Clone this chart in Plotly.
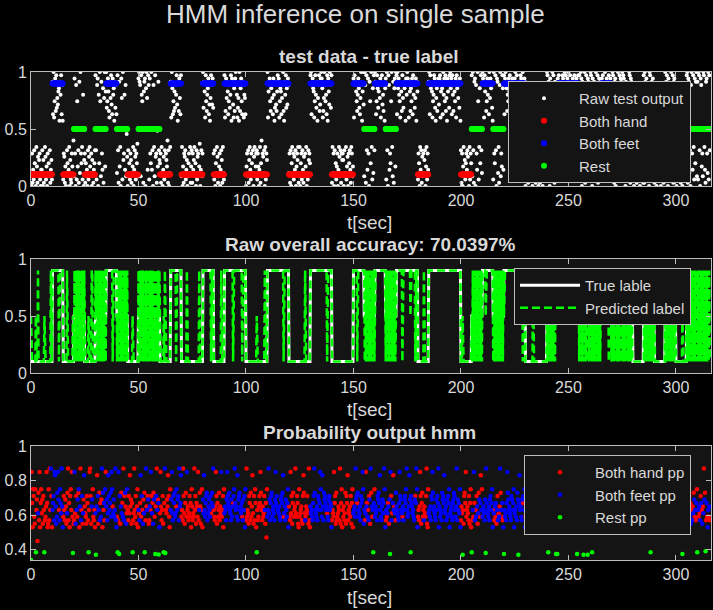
import plotly.graph_objects as go

DT = 0.25  # sample period [sec]

# true label segments [sec]: H = both hand, F = both feet, R = rest
seg_start = [0, 10, 15, 20, 25, 30, 35, 40, 45, 50, 60, 65, 70, 80, 85, 90, 100, 110, 120, 130,
             140, 150, 155, 160, 165, 170, 180, 185, 200, 205, 210, 215, 220, 230, 240, 245,
             255, 265, 270, 280, 285, 290, 295, 300, 305]
seg_end = [10, 15, 20, 25, 30, 35, 40, 45, 50, 60, 65, 70, 80, 85, 90, 100, 110, 120, 130, 140,
           150, 155, 160, 165, 170, 180, 185, 200, 205, 210, 215, 220, 230, 240, 245, 255,
           265, 270, 280, 285, 290, 295, 300, 305, 316]
seg_class = ["H", "F", "H", "R", "H", "R", "F", "R", "H", "R", "H", "F", "H", "F", "H", "F", "H", "F",
             "H", "F", "H", "F", "R", "F", "R", "F", "H", "F", "H", "R", "F", "R", "F", "H", "R",
             "F", "R", "F", "R", "H", "R", "H", "R", "H", "R"]
label_level = {"H": 0.1, "F": 0.9, "R": 0.5}

# raw classifier output, 5 s per block (0..9 low, a..z high, scale 0..1)
raw_blocks = [
    "30a15 2b740 c6193 8a205", "5b081 3c926 0a473 b1582", "wmzlq xnyor ptukw symvk",
    "2a916 04b73 5c082 1a63e", "3xa0v 2q6b1 w4za7 c2s08", "a1735 0b29c 64a08 3157b",
    "yb2vx 0s7zq 3wa5u 1rz6t", "zoqxt nlwry pmxsu kwovm", "4yb1w 6c0xr 2z8as 5v3g9",
    "0b372 a8146 c05b9 2a7d3", "xzwv3 ysqz1 twx0u zr5yv", "2xa7z 5b0vc 3y9a1 h6wb8",
    "7a1c4 0592b 3a86e 1b04c", "wlzum qntov sypkw nxrmy", "3c061 a9b25 8037a 4c16b",
    "1a58c 370b2 9a46d 05b3a", "zowtl yqnsu xmpkr yvpxo", "a2b07 4c913 6a05b 81c42",
    "ylnxr wtmqv osykx wplun", "xzvsl orkzn uxqmw vlsrm", "06a3b 18c52 a74b0 9c36a",
    "b2a60 5c17e 3a94b 0c2a8", "zltwx qnuvr mxsko wpnty", "wxlqu tmrvz nkwsy oupxv",
    "4a1b0 7c3a2 95b06 a8c13", "c07a2 b5193 a6c04 2b8a7", "yzmvx utlqy sowkr vynpx",
    "zxuln rzvqs mykxt pzvoy", "1c4a0 b3726 a05c9 3b1a8", "a80b3 4c269 0a7b5 1ca36",
    "xlywv tqnsx uomrz vktzp", "3zv1y b5xa0 wq7zc 2u4yb", "zwmqy uotvr xlwyp snvku",
    "x2zb0 yv5a7 qzc3w 1ux6z", "ymzux sqlvt nyrow uvkxs", "zxvlw tnuqx mysvo rxkwt",
    "2a70c 5b193 a48b0 6c2a5", "wzmyu vtlqs yxokr unvxp", "xyltw umzsx qynrk xtvoy",
    "zuxmy snvtq xlyuw rvoxk", "b1a06 c3827 a5b94 0c2a7", "y3zb1 wx0va 5zq2c u7yb4",
    "zxwly tvnqx swmzr xuvok", "2za7y b0xw4 c1vz3 a6yu5", "ymxzv unsqx tylwr vxkuo",
    "xzvmy qultn wyxkr zvoxw", "0a5c2 17b3a 96c04 a2b81", "b38a0 6c1a4 2b095 a7c3b",
    "zy2wa 0x5vb z3yc1 wu6a9", "xlyvw tunqy xmszv yorxu", "zwmyv uslxt qyowr xvkyu",
    "yb3zx 0wa5v z1cy7 2xw4b", "3zya0 x6bwv 2zc4y 1ax5w", "wlxvy tmuzq sxowv yrkxu",
    "a4zyb 1wx0c v5za2 y3xw6", "z2yx7 b0wv3 ac5zy 1xw4b", "4b0a2 7c15a 3b608 2a9c1",
    "y1zw5 xa3bv 0zy6c w2x4a", "1c3a0 8b52a 6c0b4 a71c3", "z3wyb 0x6va 2zc5y 1wx7a",
    "a06b3 2c8a1 5b0c7 4a29b", "yz1xw 4b0vz a5yc2 x7wz3", "w2zyb 0xv6a 3zyc5 1wxa4",
    "z2yb",
]

# hmm posterior of predicted class, 5 s per block (UPPER = both hand, lower = both feet)
pp_blocks = [
    "KYPIT RLJTZ NQEmS KYIPT", "MQJRN SKLOY PIJTK ZNzRI", "nprky xojls yqNkt pmzoi",
    "LRNKQ OJmSZ KPIRT NYLXJ", "KyMjR nLqSt IoZkN rJmQx", "OMLJR PKSNY ZRJoq TLKNI",
    "mKoXr JnSkP lQzIs NpKtY", "oqkmx rnpsl ytOmq lnzki", "LnKyM rJoSm PlZkR sOjMt",
    "NKRMX OQJPs KMZNL RJOTI", "nMkPx LrNjQ mSpKz OnRqJ", "KoNyR mPjSq LkOrZ nQpJi",
    "MYOKN RJSPz LNMQO XRLIT", "nqymk rpslm Otnqr kzopx", "LNKZR MJPSL yNOKM RLPIT",
    "OKMLZ NRJPO LYKnS OJNTI", "qmxnl prskm oqnlr Mpsoz", "NLKOY RJPLN SKOMy LNRIT",
    "monkq yrpos nmkql oPrtz", "pnolx kqrsn ompLk qnrit", "KZLNM JRPKS LOXMJ RKTPI",
    "MNKLO RPYSN KOLMR nJPFT", "lnzmq kprsl nomkq ypron", "nmolk qrpsx Lmokq nlpti",
    "OLKYM RJPSL NOZML RPJIT", "LMNOK JRXSM kLONR MJZKI", "omnlk przsn mlokr qnpyt",
    "nlxok sqrpn oMlkq rnpoi", "KNMLY PRJSK LMONK ZJPTI", "NLOKM SJRPX KNMOL RJPTI",
    "mnolz qrPsn lmokr pqytj", "nKmYo PlNkR qJzSo LnKpT", "lomnk rqspx nlkoq mpzti",
    "KnLmP oJqNy RkMpX nOmKs", "onmlk pyrqn mLokn qrptz", "nlmox qsrpo mnlkq Rpzti",
    "LNKOY RJPSL NkOML RZJIT", "mnlok rqysn omlkq nrpzi", "olnmk sqrpx nmokq lrpti",
    "mnolk pqsrn lozkq npmti", "KOMLN JRSPY LNOMK RJPTI", "mKnLy PkNlR oJmSq LpXnT",
    "lnomk qrzpn mlokq rnpti", "NmKoL pJnRk MlOzS nLpKi", "onlmk pysqn omlkr qnpti",
    "mnlok sqrpx nolkq Prnti", "LNOKM RJSPL ZOKMl RPJIT", "KMLON PJRSY MNLOK JRPTI",
    "nKoMy RpLkN mJzOs KlNpT", "lmnok rqpsx nomkq lrpti", "nolmk pszrn mlokq nrpti",
    "KmNoL kRpJn MqLsZ mKnPi", "oLnKy PjRlN kMoQs LnKpT", "mlnok qrspn olzkq Nrpti",
    "LnMkO pJrNx KoMqS lNpKi", "nKmLo RkPjY lMoSq KnLpT", "MLNOK RJPSZ LONKM JRPTI",
    "KoLnM pRkNz OlMqS nKpLi", "NKMLO JRPSY KLOMN RJPTI", "oMnKx PkRjN mOlSq KnMpT",
    "LOKNM RPJSL NKOZL JRPTI", "mLnKy RlPjN kOmSq LnKpT", "KnLoM kRpNj OmZqS nKpLi",
    "nLoK",
]

# samples where "rest" was the predicted class
rest_t = [0.0, 2.3, 6.2, 19.5, 26.8, 30.2, 40.3, 41.0, 47.3, 52.9, 57.8, 59.4, 61.7, 62.5,
          105.0, 159.2, 167.0, 176.6, 200.8, 205.0, 211.5, 220.0, 226.7, 240.6, 244.2, 244.8,
          254.0, 257.0, 258.9, 261.0, 288.2, 303.0, 309.9, 313.8]
rest_v = [0.34, 0.385, 0.385, 0.38, 0.385, 0.37, 0.385, 0.375, 0.385, 0.385, 0.375, 0.372,
          0.385, 0.38, 0.385, 0.385, 0.375, 0.385, 0.37, 0.385, 0.38, 0.375, 0.37, 0.385,
          0.375, 0.375, 0.375, 0.37, 0.37, 0.385, 0.385, 0.375, 0.385, 0.39]

RAW_CODES = "0123456789abcdefghijklmnopqrstuvwxyz"
raw_level = {c: i / 35 for i, c in enumerate(RAW_CODES)}
pp_level = {c: 0.37 + 0.02 * i for i, c in enumerate("abcdefghijklmnopqrstuvwxyz")}

raw = "".join(b.replace(" ", "") for b in raw_blocks)
pp = "".join(b.replace(" ", "") for b in pp_blocks)
n = len(raw)
t = [i * DT for i in range(n)]

# true label per sample
true_cls = []
for ti in t:
    for s, e, c in zip(seg_start, seg_end, seg_class):
        if s <= ti < e:
            true_cls.append(c)
            break
true_y = [label_level[c] for c in true_cls]
raw_y = [raw_level[c] for c in raw]

rest_idx = {round(rt / DT) for rt in rest_t}
hand_t, hand_y, feet_t, feet_y, pred_y = [], [], [], [], []
for i, c in enumerate(pp):
    if i in rest_idx:
        pred_y.append(0.5)
        continue
    if c.isupper():
        hand_t.append(t[i])
        hand_y.append(pp_level[c.lower()])
        pred_y.append(0.1)
    else:
        feet_t.append(t[i])
        feet_y.append(pp_level[c])
        pred_y.append(0.9)

TXT = "#d9d9d9"
AX = "#bdbdbd"
RED, BLUE, GREEN = "#ff0000", "#0000ff", "#00ff00"

fig = go.Figure()

# panel 1: test data - true label
fig.add_trace(go.Scatter(x=t, y=raw_y, mode="markers", name="Raw test output",
                         marker=dict(color="white", size=4), xaxis="x", yaxis="y", legend="legend"))
for cls, name, col in [("H", "Both hand", RED), ("F", "Both feet", BLUE), ("R", "Rest", GREEN)]:
    xs = [ti for ti, c in zip(t, true_cls) if c == cls]
    fig.add_trace(go.Scatter(x=xs, y=[label_level[cls]] * len(xs), mode="markers", name=name,
                             marker=dict(color=col, size=6), xaxis="x", yaxis="y",
                             legend="legend"))

# panel 2: accuracy
fig.add_trace(go.Scatter(x=t, y=true_y, mode="lines", name="True lable",
                         line=dict(color="white", width=3), xaxis="x2", yaxis="y2",
                         legend="legend2"))
fig.add_trace(go.Scatter(x=t, y=pred_y, mode="lines", name="Predicted label",
                         line=dict(color=GREEN, width=2.5, dash="8px,4px"), xaxis="x2", yaxis="y2",
                         legend="legend2"))

# panel 3: probability output
fig.add_trace(go.Scatter(x=hand_t, y=hand_y, mode="markers", name="Both hand pp",
                         marker=dict(color=RED, size=4.5), xaxis="x3", yaxis="y3", legend="legend3"))
fig.add_trace(go.Scatter(x=feet_t, y=feet_y, mode="markers", name="Both feet pp",
                         marker=dict(color=BLUE, size=4.5), xaxis="x3", yaxis="y3", legend="legend3"))
fig.add_trace(go.Scatter(x=rest_t, y=rest_v, mode="markers", name="Rest pp",
                         marker=dict(color=GREEN, size=4.5), xaxis="x3", yaxis="y3", legend="legend3"))

W, H = 713, 610


def px_x(p):
    return p / W


def px_y(p):
    return 1 - p / H


def ydom(top, bottom):
    return [px_y(bottom), px_y(top)]


axis = dict(showline=True, linecolor=AX, linewidth=1, mirror="ticks", ticks="inside",
            ticklen=5, tickcolor=AX, tickfont=dict(size=16, color=TXT), showgrid=False,
            zeroline=False, automargin=False)
xax = dict(axis, range=[0, 316.3], tickvals=[0, 50, 100, 150, 200, 250, 300],
           domain=[px_x(31), px_x(711)])

legend_style = dict(bgcolor="#141414", bordercolor=AX, borderwidth=1,
                    font=dict(size=15, color=TXT), xanchor="right", yanchor="top",
                    itemwidth=60, itemclick=False)

fig.update_layout(
    width=W, height=H,
    margin=dict(l=0, r=0, t=0, b=0, autoexpand=False),
    paper_bgcolor="black", plot_bgcolor="#141414",
    font=dict(family="Liberation Sans, Arial, sans-serif", color=TXT),
    xaxis=dict(xax, anchor="y"),
    yaxis=dict(axis, range=[0, 1], tickvals=[0, 0.5, 1], domain=ydom(72, 186), anchor="x"),
    xaxis2=dict(xax, anchor="y2"),
    yaxis2=dict(axis, range=[0, 1], tickvals=[0, 0.5, 1], domain=ydom(259, 373), anchor="x2"),
    xaxis3=dict(xax, anchor="y3"),
    yaxis3=dict(axis, range=[0.34, 1], tickvals=[0.4, 0.6, 0.8, 1], domain=ydom(446, 560),
                anchor="x3"),
    legend=dict(legend_style, x=px_x(691), y=px_y(81)),
    legend2=dict(legend_style, x=px_x(691), y=px_y(268)),
    legend3=dict(legend_style, x=px_x(691), y=px_y(455)),
    showlegend=True,
)

titles = [
    ("HMM inference on single sample", 355, 14, 26, False),
    ("test data - true label", 369, 57, 19, True),
    ("Raw overall accuracy: 70.0397%", 370, 244, 19, True),
    ("Probability output hmm", 369, 432, 19, True),
    ("t[sec]", 369, 222, 19, False),
    ("t[sec]", 369, 409, 19, False),
    ("t[sec]", 369, 597, 19, False),
]
for text, px, py, size, bold in titles:
    fig.add_annotation(text=f"<b>{text}</b>" if bold else text, x=px_x(px), y=px_y(py),
                       xref="paper", yref="paper", showarrow=False, xanchor="center",
                       yanchor="middle", font=dict(size=size, color=TXT))

# drop the browser's default 8 px page margin so the figure fills the window
fig.write_html("out.html", config={"displayModeBar": False},
               post_script="document.body.style.margin='0';document.body.style.background='black';")
